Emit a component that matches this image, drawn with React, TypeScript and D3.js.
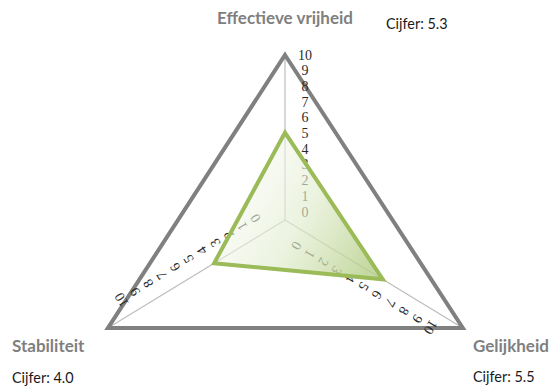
import React from "react";
import * as d3 from "d3";

// Radar chart: three dimensions scored 0–10
const categories = ["Effectieve vrijheid", "Gelijkheid", "Stabiliteit"];
const scores = [5.3, 5.5, 4.0];
const tickValues = [0, 1, 2, 3, 4, 5, 6, 7, 8, 9, 10];

const W = 555;
const H = 388;
const center = { x: 285, y: 220 };
// direction (degrees, screen space) and full length of each spoke
const axisAngles = [-90, 31.25, 148.6];
const axisLengths = [165, 208, 207.5];
// tick label placement along each spoke
const labelStep = 15.7;
const labelAlong = [8, 23, 24];
const labelPerp = [20, 16, 17];
// category title and score caption positions
const titlePos = [
  { x: 285, y: 24, anchor: "middle" },
  { x: 473, y: 352, anchor: "start" },
  { x: 12, y: 352, anchor: "start" },
];
const captionPos = [
  { x: 386, y: 29 },
  { x: 473, y: 382 },
  { x: 12, y: 383 },
];

const rad = (d: number) => (d * Math.PI) / 180;

export default function App() {
  const r = d3.scaleLinear().domain([0, 10]).range([0, 1]);

  const point = (i: number, v: number): [number, number] => {
    const a = rad(axisAngles[i]);
    const len = r(v) * axisLengths[i];
    return [center.x + Math.cos(a) * len, center.y + Math.sin(a) * len];
  };

  const closed = d3.line().curve(d3.curveLinearClosed);
  const outerPath = closed(categories.map((_, i) => point(i, 10))) || "";
  const dataPath = closed(scores.map((v, i) => point(i, v))) || "";

  const tickLabels = categories.flatMap((_, i) => {
    const a = rad(axisAngles[i]);
    const rot = i === 0 ? 0 : axisAngles[i] + 90;
    const u = [Math.cos(a), Math.sin(a)];
    const p = [Math.cos(rad(rot)), Math.sin(rad(rot))];
    return tickValues.map((t) => {
      const along = labelAlong[i] + t * labelStep;
      const x = center.x + u[0] * along + p[0] * labelPerp[i];
      const y = center.y + u[1] * along + p[1] * labelPerp[i];
      return { key: `${i}-${t}`, x, y, rot, text: String(t) };
    });
  });

  return (
    <svg
      width={W}
      height={H}
      style={{ position: "absolute", left: 0, top: 0, background: "#fff" }}
    >
      <defs>
        <linearGradient id="areaFill" x1="0" y1="0.25" x2="1" y2="0.75">
          <stop offset="0" stopColor="#ffffff" stopOpacity={0.5} />
          <stop offset="0.55" stopColor="#e1ecce" stopOpacity={0.65} />
          <stop offset="1" stopColor="#b6d08a" stopOpacity={0.8} />
        </linearGradient>
      </defs>

      {/* spokes */}
      {categories.map((_, i) => {
        const [x2, y2] = point(i, 10);
        return (
          <line
            key={`spoke-${i}`}
            x1={center.x}
            y1={center.y}
            x2={x2}
            y2={y2}
            stroke="#bdbdbd"
            strokeWidth={1.2}
          />
        );
      })}

      {/* outer frame */}
      <path
        d={outerPath}
        fill="none"
        stroke="#808080"
        strokeWidth={4}
        strokeLinejoin="miter"
      />

      {/* tick labels */}
      {tickLabels.map((l) => (
        <text
          key={l.key}
          transform={`translate(${l.x},${l.y}) rotate(${l.rot})`}
          textAnchor="middle"
          dominantBaseline="central"
          fontFamily="'Liberation Serif', 'Times New Roman', serif"
          fontSize={14}
          fill="#2b2b2b"
        >
          {l.text}
        </text>
      ))}

      {/* score area */}
      <path d={dataPath} fill="url(#areaFill)" stroke="none" />
      <path
        d={dataPath}
        fill="none"
        stroke="#9bbb59"
        strokeWidth={4}
        strokeLinejoin="miter"
      />

      {/* category titles */}
      {categories.map((c, i) => (
        <text
          key={`title-${i}`}
          x={titlePos[i].x}
          y={titlePos[i].y}
          textAnchor={titlePos[i].anchor as any}
          fontFamily="Lato, 'Open Sans', sans-serif"
          fontWeight="bold"
          fontSize={17}
          fill="#7f7f7f"
        >
          {c}
        </text>
      ))}

      {/* score captions */}
      {scores.map((v, i) => (
        <text
          key={`cap-${i}`}
          x={captionPos[i].x}
          y={captionPos[i].y}
          fontFamily="Lato, 'Open Sans', sans-serif"
          fontSize={14.4}
          fill="#1a1a1a"
        >
          {`Cijfer: ${v.toFixed(1)}`}
        </text>
      ))}
    </svg>
  );
}
